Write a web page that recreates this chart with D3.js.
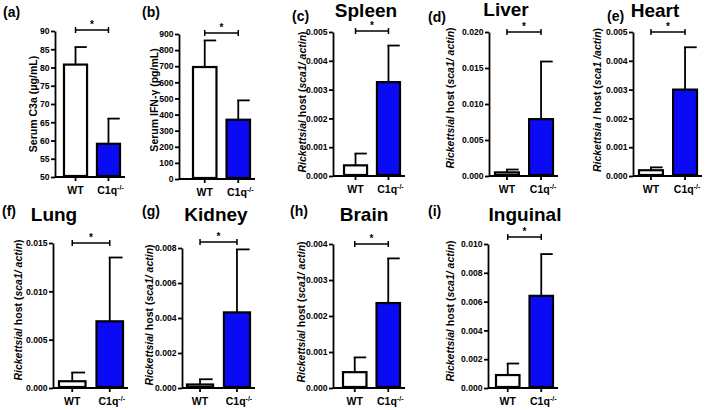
<!DOCTYPE html>
<html>
<head>
<meta charset="utf-8">
<script src="https://cdn.jsdelivr.net/npm/d3@7"></script>
<style>
  html, body { margin: 0; padding: 0; background: #fff; }
  svg { display: block; font-family: "Liberation Sans", Arial, sans-serif; font-weight: bold; }
</style>
</head>
<body>
<svg id="chart" width="709" height="410"></svg>
<script>
// ---------- data ----------
const panelIds = ["(a)", "(b)", "(c)", "(d)", "(e)", "(f)", "(g)", "(h)", "(i)"];
const panelTitles = ["", "", "Spleen", "Liver", "Heart", "Lung", "Kidney", "Brain", "Inguinal"];
const categories = ["WT", "C1q"];
const wtMean = [80.8, 695, 0.00037, 0.0005, 0.0002, 0.0007, 0.0002, 0.00044, 0.0009];
const wtErr  = [4.8, 165, 0.00041, 0.0004, 0.0001, 0.0009, 0.0003, 0.00041, 0.0008];
const koMean = [59.1, 368, 0.00326, 0.0079, 0.0030, 0.0069, 0.00432, 0.00236, 0.0064];
const koErr  = [6.9, 120, 0.00127, 0.0080, 0.00147, 0.0066, 0.0036, 0.00124, 0.0029];
const yTicks = [
  [50, 55, 60, 65, 70, 75, 80, 85, 90],
  [0, 100, 200, 300, 400, 500, 600, 700, 800, 900],
  [0, 0.001, 0.002, 0.003, 0.004, 0.005],
  [0, 0.005, 0.010, 0.015, 0.020],
  [0, 0.001, 0.002, 0.003, 0.004, 0.005],
  [0, 0.005, 0.010, 0.015],
  [0, 0.002, 0.004, 0.006, 0.008],
  [0, 0.001, 0.002, 0.003, 0.004],
  [0, 0.002, 0.004, 0.006, 0.008, 0.010]
];
const tickDecimals = [0, 0, 3, 3, 3, 3, 3, 3, 3];
const rick = [["Rickettsia", true], ["/ host (", false], ["sca1/ actin", true], [")", false]];
const rickHeart = [["Rickettsia", true], [" / host (", false], ["sca1 /actin", true], [")", false]];
const yTitles = [
  [["Serum C3a (\u03bcg/mL)", false]],
  [["Serum IFN-\u03b3 (pg/mL)", false]],
  rick, rick, rickHeart, rick, rick, rick, rick
];

// ---------- layout ----------
const layout = [
  {ax: 55,  x0: 63,  x1: 121, top: 31,  bot: 177, br: 30,  lx: 3,   ly: 17,  tx: 0,   ty: 0,   ytx: 33,  yty: 104},
  {ax: 179, x0: 192, x1: 251, top: 34,  bot: 179, br: 33,  lx: 142, ly: 17,  tx: 0,   ty: 0,   ytx: 154, yty: 100},
  {ax: 333, x0: 343, x1: 401, top: 32,  bot: 176, br: 31,  lx: 292, ly: 21,  tx: 366, ty: 17,  ytx: 302, yty: 102},
  {ax: 489, x0: 494, x1: 554, top: 32,  bot: 176, br: 32,  lx: 428, ly: 22,  tx: 506, ty: 16,  ytx: 450, yty: 98},
  {ax: 633, x0: 638, x1: 698, top: 32,  bot: 176, br: 32,  lx: 607, ly: 21,  tx: 655, ty: 17,  ytx: 597, yty: 100},
  {ax: 53,  x0: 58,  x1: 124, top: 243, bot: 388, br: 243, lx: 2,   ly: 216, tx: 54,  ty: 221, ytx: 18,  yty: 310},
  {ax: 182, x0: 186, x1: 251, top: 248, bot: 388, br: 242, lx: 142, ly: 216, tx: 216, ty: 221, ytx: 149, yty: 315},
  {ax: 333, x0: 342, x1: 401, top: 244, bot: 388, br: 244, lx: 290, ly: 216, tx: 364, ty: 221, ytx: 301, yty: 312},
  {ax: 488, x0: 495, x1: 554, top: 244, bot: 388, br: 237, lx: 428, ly: 216, tx: 525, ty: 221, ytx: 450, yty: 311}
];

const svg = d3.select("#chart");
const fills = ["#ffffff", "#0a0af5"];

panelIds.forEach((pid, i) => {
  const L = layout[i];
  const g = svg.append("g");
  const ticks = yTicks[i];
  const y = d3.scaleLinear().domain([ticks[0], ticks[ticks.length - 1]]).range([L.bot, L.top]);
  const x = d3.scaleBand().domain(categories).range([L.x0, L.x1]).paddingInner(0.24).paddingOuter(0);
  const bw = x.bandwidth();

  // panel label
  g.append("text").attr("x", L.lx).attr("y", L.ly).attr("font-size", 14).text(pid);
  // title
  if (panelTitles[i]) {
    g.append("text").attr("x", L.tx).attr("y", L.ty).attr("text-anchor", "middle")
      .attr("font-size", 19).text(panelTitles[i]);
  }

  // y axis
  const fmt = d3.format("." + tickDecimals[i] + "f");
  const yAxis = g.append("g").attr("transform", `translate(${L.ax},0)`)
    .call(d3.axisLeft(y).tickValues(ticks).tickSize(4).tickSizeOuter(0).tickPadding(1.5).tickFormat(fmt));
  yAxis.selectAll("path, line").attr("stroke", "#000").attr("stroke-width", 1.8);
  yAxis.selectAll("text").attr("font-size", 8.6).attr("font-weight", "bold")
    .attr("font-family", "'Liberation Sans', Arial, sans-serif").attr("fill", "#000");

  // x axis
  const xAxis = g.append("g").attr("transform", `translate(0,${L.bot})`)
    .call(d3.axisBottom(x).tickSize(4).tickSizeOuter(0).tickFormat(""));
  xAxis.select("path.domain").attr("d", `M${L.ax},0H${L.x1 + 4}`);
  xAxis.selectAll("path, line").attr("stroke", "#000").attr("stroke-width", 1.8);

  // x labels
  const lab = g.append("g").attr("font-size", 10.5);
  lab.append("text").attr("x", x("WT") + bw / 2).attr("y", L.bot + 17)
    .attr("text-anchor", "middle").text("WT");
  const ko = lab.append("text").attr("x", x("C1q") + bw / 2 + 2).attr("y", L.bot + 17)
    .attr("text-anchor", "middle");
  ko.append("tspan").text("C1q");
  ko.append("tspan").attr("font-size", 7).attr("dy", -4).text("-/-");

  // y title
  const yt = g.append("text").attr("transform", `translate(${L.ytx},${L.yty}) rotate(-90)`)
    .attr("text-anchor", "middle").attr("dominant-baseline", "central").attr("font-size", 10.5);
  yTitles[i].forEach(([t, it]) => {
    yt.append("tspan").attr("font-style", it ? "italic" : "normal").text(t);
  });

  // bars
  const rows = [
    {cat: "WT", mean: wtMean[i], err: wtErr[i], fill: fills[0]},
    {cat: "C1q", mean: koMean[i], err: koErr[i], fill: fills[1]}
  ];
  rows.forEach(r => {
    const cx = x(r.cat) + bw / 2;
    g.append("line").attr("x1", cx).attr("x2", cx)
      .attr("y1", y(r.mean)).attr("y2", y(r.mean + r.err))
      .attr("stroke", "#000").attr("stroke-width", 1.8);
    g.append("line").attr("x1", cx - 1).attr("x2", cx + bw * 0.45)
      .attr("y1", y(r.mean + r.err)).attr("y2", y(r.mean + r.err))
      .attr("stroke", "#000").attr("stroke-width", 1.8);
  });
  g.selectAll("rect.bar").data(rows).join("rect").attr("class", "bar")
    .attr("x", d => x(d.cat) + 1).attr("width", bw - 2)
    .attr("y", d => y(d.mean)).attr("height", d => y(ticks[0]) - y(d.mean) - 1)
    .attr("fill", d => d.fill).attr("stroke", "#000").attr("stroke-width", 2.2);

  // significance bracket
  const c1 = x("WT") + bw / 2, c2 = x("C1q") + bw / 2;
  g.append("path").attr("d", `M${c1},${L.br - 3}V${L.br + 3}M${c1},${L.br}H${c2}M${c2},${L.br - 3}V${L.br + 3}`)
    .attr("fill", "none").attr("stroke", "#000").attr("stroke-width", 1.5);
  g.append("text").attr("x", (c1 + c2) / 2).attr("y", L.br - 2).attr("text-anchor", "middle")
    .attr("font-size", 10).text("*");
});
</script>
</body>
</html>
